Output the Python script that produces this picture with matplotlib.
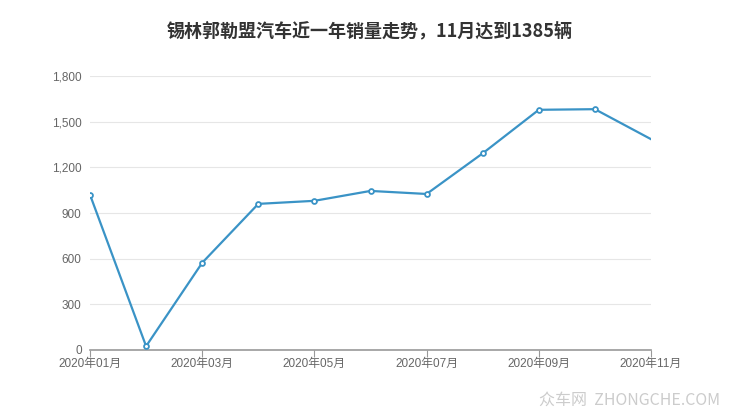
import numpy as np
import matplotlib.pyplot as plt

plt.rcParams['font.family'] = ['Liberation Sans', 'Noto Sans CJK SC', 'DejaVu Sans']

# --- data ---
months = ['2020年01月', '2020年02月', '2020年03月', '2020年04月', '2020年05月', '2020年06月',
          '2020年07月', '2020年08月', '2020年09月', '2020年10月', '2020年11月']
sales = [1020, 25, 573, 960, 980, 1045, 1025, 1292, 1578, 1582, 1385]
yticks = [0, 300, 600, 900, 1200, 1500, 1800]

x = np.arange(len(months))

fig = plt.figure(figsize=(7.4, 4.17), dpi=100)
ax = fig.add_axes([90/740, 1 - 350/417, (651 - 90)/740, (350 - 76)/417])

ax.plot(x, sales, color='#3a93c6', lw=1.6, marker='o', ms=3.5, mfc='white',
        mec='#3a93c6', mew=1.3, markevery=list(range(len(x) - 1)), zorder=3)

ax.set_xlim(0, len(x) - 1)
ax.set_ylim(0, 1800)
ax.set_yticks(yticks)
ax.set_yticklabels([f'{v:,}' for v in yticks])
ax.set_xticks(x[::2])
ax.set_xticklabels(months[::2])

ax.grid(axis='y', color='#e6e6e6', lw=0.8)
ax.set_axisbelow(True)
for s in ['top', 'right', 'left']:
    ax.spines[s].set_visible(False)
ax.spines['bottom'].set_color('#999999')
ax.spines['bottom'].set_linewidth(1.2)
ax.tick_params(axis='y', length=0, pad=6, labelsize=8.5, labelcolor='#666666')
ax.tick_params(axis='x', length=5, color='#999999', pad=1, labelsize=8.5, labelcolor='#666666')

fig.text(0.5, 1 - 31/417, '锡林郭勒盟汽车近一年销量走势，11月达到1385辆', ha='center', va='center',
         fontsize=13, fontweight='bold', color='#333333',
         family=['Noto Sans CJK SC', 'DejaVu Sans'])
fig.text(720/740, 1 - 400/417, '众车网  ZHONGCHE.COM', ha='right', va='center',
         fontsize=11.5, color='#cccccc', family=['Noto Sans CJK SC', 'DejaVu Sans'])

fig.savefig('out.png', dpi=100)
